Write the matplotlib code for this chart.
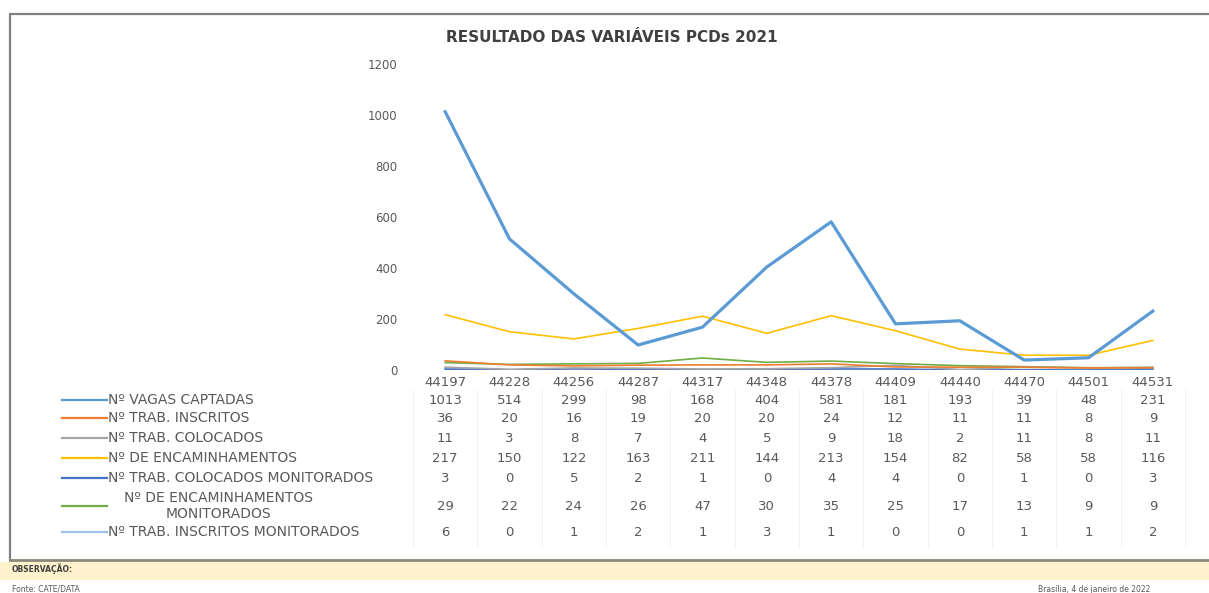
import matplotlib
matplotlib.use("Agg")
import matplotlib.pyplot as plt
from matplotlib import transforms
from matplotlib.lines import Line2D
from matplotlib.patches import Rectangle

plt.rcParams["font.family"] = ["DejaVu Sans"]

meses = ["44197", "44228", "44256", "44287", "44317", "44348",
         "44378", "44409", "44440", "44470", "44501", "44531"]
vagas_captadas = [1013, 514, 299, 98, 168, 404, 581, 181, 193, 39, 48, 231]
trab_inscritos = [36, 20, 16, 19, 20, 20, 24, 12, 11, 11, 8, 9]
trab_colocados = [11, 3, 8, 7, 4, 5, 9, 18, 2, 11, 8, 11]
encaminhamentos = [217, 150, 122, 163, 211, 144, 213, 154, 82, 58, 58, 116]
colocados_monit = [3, 0, 5, 2, 1, 0, 4, 4, 0, 1, 0, 3]
encaminh_monit = [29, 22, 24, 26, 47, 30, 35, 25, 17, 13, 9, 9]
inscritos_monit = [6, 0, 1, 2, 1, 3, 1, 0, 0, 1, 1, 2]

rotulos = [
    "Nº VAGAS CAPTADAS",
    "Nº TRAB. INSCRITOS",
    "Nº TRAB. COLOCADOS",
    "Nº DE ENCAMINHAMENTOS",
    "Nº TRAB. COLOCADOS MONITORADOS",
    "Nº DE ENCAMINHAMENTOS\nMONITORADOS",
    "Nº TRAB. INSCRITOS MONITORADOS",
]
series = [vagas_captadas, trab_inscritos, trab_colocados, encaminhamentos,
          colocados_monit, encaminh_monit, inscritos_monit]
cores = ["#5B9BD5", "#ED7D31", "#A5A5A5", "#FFC000", "#4472C4", "#70AD47", "#9DC3E6"]
larguras = [2.3, 1.2, 1.2, 1.2, 1.2, 1.2, 1.2]
cor_texto = "#595959"

W, H = 1209, 593
fig = plt.figure(figsize=(W / 100, H / 100), dpi=100)

def fy(py):
    # pixel row (from top) -> figure fraction
    return 1 - py / H

ax = fig.add_axes([413 / W, fy(370), (1185 - 413) / W, (370 - 64) / H])
x = list(range(len(meses)))
# draw back-to-front like excel (first series on top)
for i in reversed(range(len(series))):
    ax.plot(x, series[i], color=cores[i], lw=larguras[i], solid_joinstyle="round")

ax.set_xlim(-0.5, len(meses) - 0.5)
ax.set_ylim(0, 1200)
ax.set_yticks(range(0, 1201, 200))
ax.set_xticks([])
ax.tick_params(axis="y", length=0, pad=11, labelsize=8.5, labelcolor=cor_texto)
for s in ax.spines.values():
    s.set_visible(False)
ax.axhline(0, color="#e4e4e4", lw=0.8)

fig.text(612 / W, fy(38), "RESULTADO DAS VARIÁVEIS PCDs 2021", ha="center", va="center",
         fontsize=11, fontweight="bold", color="#404040")

# data table below the chart
tr = transforms.blended_transform_factory(ax.transData, fig.transFigure)
linhas_y = [400, 418, 438, 458, 478, 506, 532]
for xi, m in zip(x, meses):
    ax.text(xi, fy(382), m, transform=tr, ha="center", va="center",
            fontsize=9.5, color=cor_texto)
for yi, vals in zip(linhas_y, series):
    for xi, v in zip(x, vals):
        ax.text(xi, fy(yi), str(v), transform=tr, ha="center", va="center",
                fontsize=9.5, color=cor_texto)
for xi in range(len(meses) + 1):
    fig.add_artist(Line2D([xi - 0.5, xi - 0.5], [fy(390), fy(546)], transform=tr,
                          color="#f0f0f0", lw=0.8))

for yi, rot, cor in zip(linhas_y, rotulos, cores):
    fig.add_artist(Line2D([62 / W, 107 / W], [fy(yi), fy(yi)], color=cor, lw=1.6))
    if "\n" in rot:
        fig.text(218 / W, fy(yi), rot, ha="center", va="center", fontsize=10,
                 color=cor_texto, linespacing=1.15, multialignment="center")
    else:
        fig.text(108 / W, fy(yi), rot, ha="left", va="center", fontsize=10, color=cor_texto)

# frame around the chart
fig.add_artist(Line2D([10 / W, 10 / W, 1.0], [fy(560), fy(14), fy(14)], color="#808080", lw=1.6))
fig.add_artist(Line2D([10 / W, 1.0], [fy(560), fy(560)], color="#8a8878", lw=2.0))

# observation band and footer
fig.add_artist(Rectangle((0, fy(580)), 1, (580 - 562) / H, transform=fig.transFigure,
                         facecolor="#FFF2CC", edgecolor="none"))
fig.text(12 / W, fy(569), "OBSERVAÇÃO:", ha="left", va="center", fontsize=5.5,
         fontweight="bold", color="#404040")
fig.text(12 / W, fy(589), "Fonte: CATE/DATA", ha="left", va="center", fontsize=5.5, color=cor_texto)
fig.text(1038 / W, fy(589), "Brasília, 4 de janeiro de 2022", ha="left", va="center",
         fontsize=5.5, color=cor_texto)

fig.savefig("out.png", dpi=100)
